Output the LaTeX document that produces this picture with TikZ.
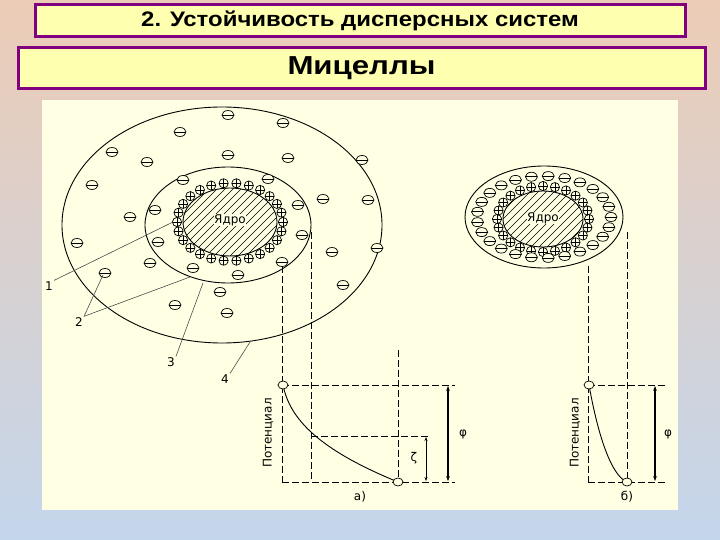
\documentclass[tikz,border=0pt]{standalone}
\usepackage{fontspec}
\setmainfont{Liberation Sans}
\newfontfamily\dfont{DejaVu Sans}
\usetikzlibrary{arrows.meta}
\definecolor{peach}{RGB}{236,204,182}
\definecolor{sky}{RGB}{196,214,236}
\definecolor{boxy}{RGB}{255,255,176}
\definecolor{purp}{RGB}{128,0,128}
\definecolor{paper}{RGB}{255,255,228}
\tikzset{
 ion/.style={draw=black,fill=paper,line width=0.7pt},
 shell/.style={draw=black,line width=0.9pt},
 dsh/.style={draw=black,line width=0.6pt,dash pattern=on 7pt off 3pt},
 thin/.style={draw=black,line width=0.6pt},
 lead/.style={draw=black!70,line width=0.6pt},
 lbl/.style={font=\dfont\fontsize{12}{14}\selectfont,inner sep=1pt},
 titlebox/.style={draw=purp,line width=3pt,fill=boxy},
 dbl/.style={draw=black,line width=1.2pt,{Stealth[length=5pt]}-{Stealth[length=5pt]}}
}
\newcommand{\minion}[2]{\draw[ion] ({#1},{#2}) ellipse (6 and 4.5); \draw[line width=0.8pt] ({#1-6},{#2}) -- ({#1+6},{#2});}
\newcommand{\plion}[2]{\draw[ion] ({#1},{#2}) circle (4.6); \draw[line width=0.6pt] ({#1-4.6},{#2}) -- ({#1+4.6},{#2}) ({#1},{#2-4.6}) -- ({#1},{#2+4.6});}
\begin{document}
\begin{tikzpicture}[x=1pt,y=-1pt]
\useasboundingbox (0,0) rectangle (720,540);
\shade[top color=peach,bottom color=sky] (0,0) rectangle (720,540);
\node[titlebox,minimum width=650pt,minimum height=32pt,font=\bfseries\fontsize{21}{24}\selectfont] (t1) at (360,21) {\scalebox{1.14}[1]{2. Устойчивость дисперсных систем}};
\node[titlebox,minimum width=687pt,minimum height=41pt,font=\bfseries\fontsize{26}{30}\selectfont] (t2) at (361.5,68.5) {\scalebox{1.2}[1]{Мицеллы}};
\fill[paper] (42,100) rectangle (678,510);
% left micelle
\draw[shell] (222,225) ellipse (160 and 118);
\draw[shell] (228,225) ellipse (83 and 58);
\begin{scope}
\clip (230,222) ellipse (47 and 34);
\foreach \i in {-150,-142,...,150} \draw[line width=0.5pt] ({230+\i-60},282) -- ({230+\i+60},162);
\end{scope}
\draw[shell] (230,222) ellipse (47 and 34);
\node[lbl,fill=paper,inner sep=0pt,font=\dfont\fontsize{12}{14}\selectfont] (core1) at (230,220) {Ядро};
\foreach \a in {0,13.846,...,359} {\plion{230+53*cos(\a)}{222+39*sin(\a)}}
\foreach \p/\q in {228/115,283/123,180/132,112/152,147/162,228/155,288/158,362/160,183/180,268/179,92/185,155/210,298/205,323/199,368/200,130/217,158/242,302/235,77/243,332/252,377/248,150/263,193/268,282/262,105/273,238/275,220/292,343/285,175/305,227/313} {\minion{\p}{\q}}
% labels
\node[lbl] (n1) at (49,286) {1};
\node[lbl] (n2) at (79,322) {2};
\node[lbl] (n3) at (171,362) {3};
\node[lbl] (n4) at (225,379) {4};
\coordinate (e1) at (173,222); \coordinate (e2a) at (103,275); \coordinate (e2b) at (190,277);
\coordinate (e3) at (203,283); \coordinate (e4) at (250,342);
\draw[lead] (n1.north east) -- (e1);
\draw[lead] (n2.north east) -- (e2a);
\draw[lead] (n2.north east) -- (e2b);
\draw[lead] (n3.north east) -- (e3);
\draw[lead] (n4.north east) -- (e4);
% left plot
\draw[dsh] (282,266) -- (282,482);
\draw[dsh] (311,232) -- (311,482);
\draw[dsh] (398,350) -- (398,482);
\draw[dsh] (282,385) -- (455,385);
\draw[dsh] (311,436) -- (430,436);
\draw[dsh] (282,482) -- (455,482);
\draw[thin,line width=0.9pt] (283,385) .. controls (290,420) and (320,450) .. (398,482);
\draw[ion] (283,385) ellipse (5 and 4);
\draw[ion] (398,482) ellipse (5 and 4);
\draw[dbl] (448,386) -- (448,481);
\draw[thin,{Stealth[length=4pt]}-{Stealth[length=4pt]}] (426,437) -- (426,481);
\node[lbl] (phi1) at (463,434) {φ};
\node[lbl] (zeta) at (414,458) {ζ};
\node[lbl,rotate=90] (pot1) at (268,433) {Потенциал};
\node[lbl] (a) at (360,497) {а)};
% right micelle
\draw[shell] (544,217) ellipse (79 and 51);
\begin{scope}
\clip (543,219) ellipse (40 and 28);
\foreach \i in {-120,-112,...,120} \draw[line width=0.5pt] ({543+\i-50},269) -- ({543+\i+50},169);
\end{scope}
\draw[shell] (543,219) ellipse (40 and 28);
\node[lbl,fill=paper,inner sep=0pt,font=\dfont\fontsize{12}{14}\selectfont] (core2) at (543,218) {Ядро};
\foreach \a in {0,15,...,359} {\plion{543+46*cos(\a)}{219+33*sin(\a)}}
\foreach \a in {0,14.4,...,359} {\minion{544+67*cos(\a)}{217+41*sin(\a)}}
% right plot
\draw[dsh] (588,266) -- (588,482);
\draw[dsh] (627,232) -- (627,482);
\draw[dsh] (588,385) -- (668,385);
\draw[dsh] (588,482) -- (668,482);
\draw[thin,line width=0.9pt] (589,385) .. controls (597,430) and (610,475) .. (627,482);
\draw[ion] (589,385) ellipse (5 and 4);
\draw[ion] (627,482) ellipse (5 and 4);
\draw[dbl] (655,386) -- (655,481);
\node[lbl] (phi2) at (668,434) {φ};
\node[lbl,rotate=90] (pot2) at (575,433) {Потенциал};
\node[lbl] (b) at (627,497) {б)};
\end{tikzpicture}
\end{document}
